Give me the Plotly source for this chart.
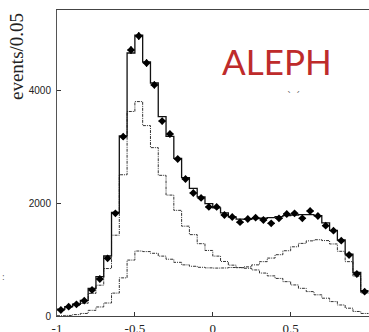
import numpy as np
import plotly.graph_objects as go

# bin edges: 40 bins of width 0.05 from -1 to 1
bin_edges = np.round(np.linspace(-1.0, 1.0, 41), 3)
bin_centers = np.round((bin_edges[:-1] + bin_edges[1:]) / 2, 3)

data_points = [106, 165, 207, 271, 460, 655, 1021, 1818, 3174, 4708,
               4956, 4478, 4089, 3450, 3221, 2779, 2425, 2177, 2089, 1930,
               1930, 1788, 1752, 1660, 1717, 1740, 1699, 1640, 1729, 1805,
               1817, 1729, 1858, 1770, 1598, 1510, 1333, 1080, 743, 431]

total_mc = [120, 165, 210, 275, 490, 696, 1062, 1835, 3186, 4655,
            4973, 4496, 4124, 3530, 3180, 2790, 2450, 2260, 2110, 1990,
            1915, 1825, 1755, 1715, 1712, 1722, 1730, 1742, 1758, 1775,
            1788, 1795, 1795, 1775, 1650, 1515, 1345, 1095, 770, 450]

component_peak = [112, 155, 185, 225, 400, 545, 840, 1430, 2500, 3620,
                  3795, 3370, 2980, 2490, 2140, 1870, 1590, 1440, 1280, 1160,
                  1060, 965, 900, 855, 870, 905, 962, 1025, 1085, 1155,
                  1225, 1285, 1330, 1350, 1335, 1275, 1145, 962, 705, 405]

component_broad = [5, 10, 25, 45, 100, 160, 230, 405, 675, 990,
                   1150, 1140, 1110, 1060, 1005, 950, 905, 880, 862, 852,
                   848, 850, 858, 858, 845, 815, 760, 710, 665, 608,
                   550, 490, 432, 375, 315, 255, 195, 138, 80, 45]

x_tickvals = [-1, -0.5, 0, 0.5]
x_ticktext = ["-1", "-0.5", "0", "0.5"]
y_tickvals = [0, 2000, 4000]
y_ticktext = ["0", "2000", "4000"]


def steps(vals):
    return list(bin_edges), list(vals) + [vals[-1]]


fig = go.Figure()

for vals, dash, col, w in [(component_broad, "3px,1px,1px,1px", "#333", 1.0),
                           (component_peak, "3px,1px,1px,1px", "#333", 1.0),
                           (total_mc, "solid", "#111", 1.3)]:
    xs, ys = steps(vals)
    fig.add_trace(go.Scatter(x=xs, y=ys, mode="lines", line_shape="hv",
                             line=dict(color=col, width=w, dash=dash),
                             showlegend=False, hoverinfo="skip"))

fig.add_trace(go.Scatter(
    x=list(bin_centers), y=data_points, mode="markers",
    marker=dict(symbol="diamond", size=6, color="black"),
    error_x=dict(type="constant", value=0.024, width=0, color="black", thickness=1),
    error_y=dict(type="sqrt", width=0, color="black", thickness=1),
    showlegend=False))

fig.update_layout(
    width=369, height=332,
    margin=dict(l=57, r=0, t=10, b=16, autoexpand=False),
    paper_bgcolor="white", plot_bgcolor="white",
    xaxis=dict(range=[-1, 1.003], tickvals=x_tickvals, ticktext=x_ticktext,
               ticks="inside", ticklen=4, tickcolor="#333", automargin=False,
               showgrid=False, zeroline=False, showline=True, linecolor="#444",
               linewidth=1.2, mirror=True,
               tickfont=dict(family="Liberation Serif", size=13, color="#222"),
               ticklabelstandoff=0),
    yaxis=dict(range=[0, 5416], tickvals=y_tickvals, ticktext=y_ticktext,
               ticks="inside", ticklen=4, tickcolor="#333", automargin=False,
               showgrid=False, zeroline=False, showline=True, linecolor="#555",
               linewidth=1, mirror=True,
               tickfont=dict(family="Liberation Sans", size=10, color="#222"),
               ticklabelstandoff=3),
)

fig.add_annotation(text="events/0.05", xref="paper", yref="paper",
                   x=(16 - 57) / 312, y=(316 - 57) / 306, textangle=-90,
                   showarrow=False, xanchor="center", yanchor="middle",
                   font=dict(family="Liberation Serif", size=19, color="#222"))
fig.add_annotation(text="ALEPH", xref="paper", yref="paper",
                   x=(277 - 57) / 312, y=(316 - 61) / 306,
                   showarrow=False, xanchor="center", yanchor="middle",
                   font=dict(family="Lato", size=35, color="#BE2B2B"))
fig.add_annotation(text="\u02cb \u02ca", xref="paper", yref="paper",
                   x=(293 - 57) / 312, y=(316 - 96) / 306,
                   showarrow=False, xanchor="center", yanchor="middle",
                   font=dict(family="DejaVu Sans", size=10, color="#666"))
fig.add_annotation(text=":", xref="paper", yref="paper",
                   x=(3 - 57) / 312, y=(316 - 277) / 306,
                   showarrow=False, xanchor="center", yanchor="middle",
                   font=dict(family="DejaVu Sans", size=8, color="#555"))

fig.write_html("out.html")
